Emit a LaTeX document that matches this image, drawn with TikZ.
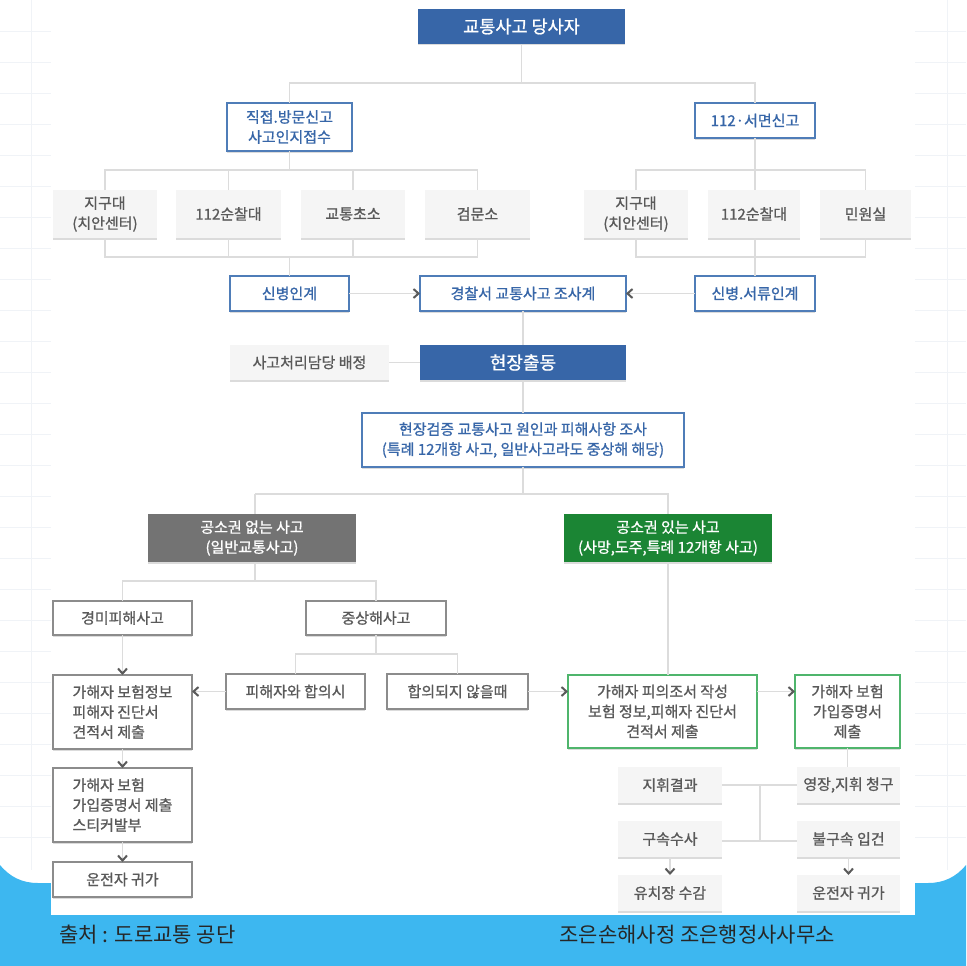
\documentclass[tikz,border=0pt]{standalone}
\usepackage{fontspec}
\usepackage{xcolor}
\setmainfont{Noto Sans CJK KR}[FakeBold=1]
\newfontfamily\plainfont{Noto Sans CJK KR}
\usetikzlibrary{arrows.meta}
\usetikzlibrary{shadows}
\definecolor{skyblue}{HTML}{3DB7F0}
\definecolor{deepblue}{HTML}{3766A8}
\definecolor{edgeblue}{HTML}{4F7DB8}
\definecolor{linkgray}{HTML}{DCDCDC}
\definecolor{textgray}{HTML}{5A5A5A}
\definecolor{deepgreen}{HTML}{1B8534}
\definecolor{edgegreen}{HTML}{4FB56C}
\definecolor{gridtint}{HTML}{F0F3F7}
\tikzset{
  basebox/.style={anchor=north west,inner sep=0pt,outer sep=0pt,align=center,font=\fontsize{15}{20}\selectfont,
    drop shadow={shadow xshift=0pt,shadow yshift=-1.5pt,fill=black,opacity=.14}},
  bluefill/.style={basebox,fill=deepblue,text=white},
  blueline/.style={basebox,fill=white,draw=edgeblue,line width=1.4pt,text=deepblue},
  grayfill/.style={basebox,fill=black!4,text=textgray},
  plainbox/.style={basebox,fill=white,draw=black!45,line width=1.4pt,text=textgray},
  greenline/.style={basebox,fill=white,draw=edgegreen,line width=1.4pt,text=textgray},
  link/.style={draw=linkgray,line width=1.4pt},
  flow/.style={link,-{Straight Barb[color=textgray,length=5pt,width=9pt,line width=2pt]}},
  credit/.style={font=\plainfont\fontsize{21}{25}\selectfont,anchor=west,text=black!85}
}
\begin{document}
\begin{tikzpicture}[x=1pt,y=-1pt]
  \useasboundingbox (0,0) rectangle (966,966);
  \fill[white] (0,0) rectangle (966,966);
  \foreach \gy in {31,62,...,860} {
    \draw[gridtint] (0,\gy) -- (51,\gy);
    \draw[gridtint] (915,\gy) -- (966,\gy);
  }
  \foreach \gx in {31,947} \draw[gridtint] (\gx,0) -- (\gx,870);
  \fill[skyblue] (0,865) .. controls (10,877) and (22,883) .. (38,883) -- (928,883)
    .. controls (944,883) and (956,877) .. (966,865) -- (966,966) -- (0,966) -- cycle;
  \fill[white] (51,0) rectangle (915,915);

  \node[bluefill,minimum width=207pt,minimum height=35pt,font=\fontsize{17.5}{20}\selectfont] (party) at (418,9) {교통사고 당사자};
  \node[blueline,minimum width=125pt,minimum height=48pt] (visit) at (227,103) {직접.방문신고\\사고인지접수};
  \node[blueline,minimum width=120pt,minimum height=35pt] (paper) at (695,103) {112·서면신고};
  \node[grayfill,minimum width=104pt,minimum height=48pt] (boxa) at (53,190) {지구대\\(치안센터)};
  \node[grayfill,minimum width=105pt,minimum height=48pt] (patrola) at (176,190) {112순찰대};
  \node[grayfill,minimum width=104pt,minimum height=48pt] (post) at (301,190) {교통초소};
  \node[grayfill,minimum width=105pt,minimum height=48pt] (check) at (425,190) {검문소};
  \node[grayfill,minimum width=104pt,minimum height=48pt] (boxb) at (584,190) {지구대\\(치안센터)};
  \node[grayfill,minimum width=92pt,minimum height=48pt] (patrolb) at (708,190) {112순찰대};
  \node[grayfill,minimum width=91pt,minimum height=48pt] (desk) at (820,190) {민원실};
  \node[blueline,minimum width=119pt,minimum height=35pt] (handa) at (230,276) {신병인계};
  \node[blueline,minimum width=206pt,minimum height=35pt] (station) at (420,276) {경찰서 교통사고 조사계};
  \node[blueline,minimum width=120pt,minimum height=35pt] (handb) at (695,276) {신병.서류인계};
  \node[grayfill,minimum width=159pt,minimum height=35pt] (assign) at (230,345) {사고처리담당 배정};
  \node[bluefill,minimum width=206pt,minimum height=35pt,font=\fontsize{18}{20}\selectfont] (dispatch) at (420,345) {현장출동};
  \node[blueline,minimum width=322pt,minimum height=54pt] (inspect) at (362,413) {현장검증 교통사고 원인과 피해사항 조사\\(특례 12개항 사고, 일반사고라도 중상해 해당)};
  \node[basebox,fill=black!55,text=white,minimum width=208pt,minimum height=48pt] (noclaim) at (148,514) {공소권 없는 사고\\(일반교통사고)};
  \node[basebox,fill=deepgreen,text=white,minimum width=208pt,minimum height=48pt] (claim) at (564,514) {공소권 있는 사고\\(사망,도주,특례 12개항 사고)};
  \node[plainbox,minimum width=139pt,minimum height=34pt] (light) at (53,601) {경미피해사고};
  \node[plainbox,minimum width=140pt,minimum height=34pt] (severe) at (306,601) {중상해사고};
  \node[plainbox,align=left,minimum width=139pt,minimum height=74pt] (docsa) at (53,675) {가해자 보험정보\\피해자 진단서\\견적서 제출};
  \node[plainbox,minimum width=139pt,minimum height=35pt] (agreed) at (226,674) {피해자와 합의시};
  \node[plainbox,minimum width=141pt,minimum height=35pt] (unagreed) at (387,674) {합의되지 않을때};
  \node[greenline,minimum width=189pt,minimum height=73pt] (docsb) at (568,675) {가해자 피의조서 작성\\보험 정보,피해자 진단서\\견적서 제출};
  \node[greenline,minimum width=105pt,minimum height=73pt] (certb) at (795,675) {가해자 보험\\가입증명서\\제출};
  \node[plainbox,align=left,minimum width=139pt,minimum height=74pt] (certa) at (53,768) {가해자 보험\\가입증명서 제출\\스티커발부};
  \node[plainbox,minimum width=139pt,minimum height=35pt] (homea) at (53,862) {운전자 귀가};
  \node[grayfill,minimum width=104pt,minimum height=36pt] (ruling) at (618,767) {지휘결과};
  \node[grayfill,minimum width=103pt,minimum height=36pt] (warrant) at (797,767) {영장,지휘 청구};
  \node[grayfill,minimum width=104pt,minimum height=36pt] (detain) at (618,821) {구속수사};
  \node[grayfill,minimum width=103pt,minimum height=36pt] (booked) at (797,821) {불구속 입건};
  \node[grayfill,minimum width=104pt,minimum height=36pt] (jail) at (618,875) {유치장 수감};
  \node[grayfill,minimum width=103pt,minimum height=36pt] (homeb) at (797,875) {운전자 귀가};
  \node[credit] (source) at (56,935) {출처 : 도로교통 공단};
  \node[credit] (office) at (556,935) {조은손해사정 조은행정사사무소};

  \coordinate (topfork) at (party |- 0,83);
  \coordinate (visitfork) at (visit |- 0,170);
  \coordinate (visitjoin) at (visit |- 0,257);
  \coordinate (paperfork) at (paper |- 0,170);
  \coordinate (paperjoin) at (paper |- 0,257);
  \coordinate (sitefork) at (inspect |- 0,494);
  \coordinate (nodrop) at (255,494);
  \coordinate (lightfork) at (255,581);
  \coordinate (severefork) at (severe |- 0,654);
  \coordinate (rulingjoin) at (760,785);
  \coordinate (detainjoin) at (760,841);

  \draw[link] (party) -- (topfork);
  \draw[link] (visit) |- (topfork) -| (paper);
  \draw[link] (visit) -- (visitfork);
  \draw[link] (boxa) |- (visitfork) -| (check);
  \draw[link] (patrola) -- (patrola |- visitfork);
  \draw[link] (post) -- (post |- visitfork);
  \draw[link] (boxa) |- (visitjoin) -| (check);
  \draw[link] (patrola) -- (patrola |- visitjoin);
  \draw[link] (post) -- (post |- visitjoin);
  \draw[link] (visitjoin) -- (handa);
  \draw[link] (paper) -- (paper |- patrolb.north);
  \draw[link] (boxb) |- (paperfork) -| (desk);
  \draw[link] (boxb) |- (paperjoin) -| (desk);
  \draw[link] (paper |- patrolb.south) -- (handb);
  \draw[link] (station) -- (dispatch);
  \draw[link] (dispatch) -- (inspect);
  \draw[link] (inspect) -- (sitefork);
  \draw[link] (nodrop) -| (claim);
  \draw[link] (nodrop) -- (nodrop |- noclaim.north);
  \draw[link] (nodrop |- noclaim.south) -- (lightfork);
  \draw[link] (light) |- (lightfork) -| (severe);
  \draw[link] (severe) -- (severefork);
  \draw[link] (agreed) |- (severefork) -| (unagreed);
  \draw[link] (claim) -- (claim |- docsb.north);
  \draw[link] (certb) -- (certb |- warrant.north);
  \draw[link] (rulingjoin) -- (detainjoin);

  \draw[flow] (handa) -- (station);
  \draw[flow] (handb) -- (station);
  \draw[link] (assign) -- (dispatch);
  \draw[flow] (light) -- (docsa);
  \draw[flow] (docsa) -- (certa);
  \draw[flow] (certa) -- (homea);
  \draw[flow] (agreed.west) -- (docsa.east |- agreed.west);
  \draw[flow] (unagreed.east) -- (docsb.west |- unagreed.east);
  \draw[flow] (docsb.east |- unagreed.east) -- (certb.west |- unagreed.east);
  \draw[link] (ruling) -- (rulingjoin) -- (warrant);
  \draw[link] (detain.east |- detainjoin) -- (booked.west |- detainjoin);
  \draw[flow] (detain) -- (jail);
  \draw[flow] (booked) -- (homeb);
\end{tikzpicture}
\end{document}
